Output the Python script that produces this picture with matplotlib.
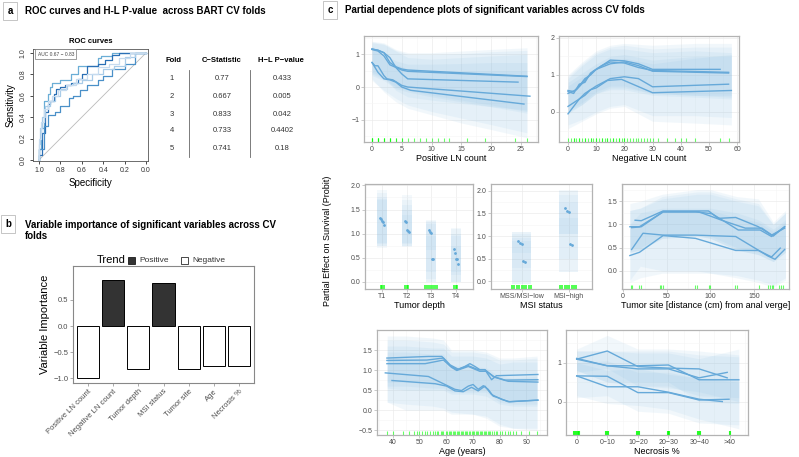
"""
Three-panel figure: ROC curves across CV folds, variable importance,
and partial dependence plots of significant variables.
"""

import matplotlib
matplotlib.use("Agg")
import matplotlib.pyplot as plt
from matplotlib.lines import Line2D
from matplotlib.patches import Rectangle
from matplotlib.ticker import AutoMinorLocator

plt.rcParams['font.family'] = ['Liberation Sans', 'DejaVu Sans']

W, H = 799, 457

# ---------------- panel a: ROC curves per fold ----------------
ROC_FPR = [
    [0, 0.02, 0.05, 0.08, 0.10, 0.12, 0.12, 0.20, 0.20, 0.30, 0.36, 0.36, 0.55, 0.58, 0.68, 0.70, 1.0],
    [0, 0.03, 0.06, 0.08, 0.10, 0.14, 0.16, 0.20, 0.24, 0.30, 0.36, 0.40, 0.45, 0.55, 0.62, 0.68, 0.75, 0.85, 1.0],
    [0, 0.05, 0.08, 0.10, 0.15, 0.20, 0.28, 0.32, 0.38, 0.45, 0.55, 0.60, 0.68, 0.80, 0.90, 1.0],
    [0, 0.01, 0.03, 0.06, 0.10, 0.15, 0.20, 0.26, 0.32, 0.40, 0.50, 0.60, 0.70, 0.80, 0.90, 1.0],
    [0, 0.02, 0.05, 0.08, 0.12, 0.18, 0.25, 0.35, 0.45, 0.55, 0.65, 0.75, 0.85, 1.0],
]
ROC_TPR = [
    [0, 0.10, 0.30, 0.55, 0.62, 0.68, 0.72, 0.72, 0.75, 0.75, 0.80, 0.85, 0.88, 0.95, 0.97, 1.0, 1.0],
    [0, 0.05, 0.25, 0.45, 0.52, 0.55, 0.62, 0.66, 0.68, 0.70, 0.72, 0.76, 0.80, 0.88, 0.90, 0.93, 0.98, 1.0, 1.0],
    [0, 0.10, 0.32, 0.42, 0.42, 0.45, 0.50, 0.58, 0.60, 0.65, 0.70, 0.75, 0.78, 0.85, 0.90, 1.0],
    [0, 0.15, 0.30, 0.40, 0.50, 0.55, 0.60, 0.66, 0.70, 0.72, 0.75, 0.80, 0.85, 0.88, 0.96, 1.0],
    [0, 0.20, 0.35, 0.48, 0.55, 0.60, 0.65, 0.70, 0.76, 0.80, 0.87, 0.90, 0.95, 1.0],
]
ROC_COLORS = ['#6BAED6', '#2A6FB5', '#4A90C8', '#A9CCE8', '#C6DBEF']
AUC_TEXT = 'AUC 0.67 \u2212 0.83'

FOLDS = ['1', '2', '3', '4', '5']
C_STAT = ['0.77', '0.667', '0.833', '0.733', '0.741']
HL_PVAL = ['0.433', '0.005', '0.042', '0.4402', '0.18']

# ---------------- panel b: variable importance ----------------
VAR_NAMES = ['Positive LN count', 'Negative LN count', 'Tumor depth', 'MSI status',
             'Tumor site', 'Age', 'Necrosis %']
VAR_IMP = [-1.0, 0.88, -0.83, 0.82, -0.82, -0.77, -0.76]
VAR_TREND = ['Negative', 'Positive', 'Negative', 'Positive', 'Negative', 'Negative', 'Negative']

# ---------------- panel c: partial dependence ----------------
# Positive LN count
POS_X = [
    [0, 1, 2, 3, 4, 5, 6, 26],
    [0, 1, 2, 3, 4, 5, 6, 24.5],
    [0, 1, 2, 3, 4, 5, 6, 26],
    [0, 0.5, 1, 2, 2.5, 3.5, 5, 6, 26.5],
    [0, 1, 2, 3, 4, 5, 6.5, 25.5],
]
POS_Y = [
    [1.15, 1.13, 1.05, 0.75, 0.62, 0.55, 0.52, 0.33],
    [1.17, 1.12, 1.05, 0.90, 0.60, 0.40, 0.25, 0.15],
    [1.15, 1.10, 0.95, 0.68, 0.60, 0.52, 0.48, 0.32],
    [0.75, 0.65, 0.65, 0.35, 0.25, 0.22, 0.05, 0.0, -0.28],
    [0.75, 0.45, 0.25, 0.22, 0.15, 0.0, -0.10, -0.52],
]
POS_RIB_X = [0, 2, 4, 6, 10, 15, 20, 26]
POS_RIB_LO = [
    [0.40, 0.25, 0.00, -0.10, -0.25, -0.40, -0.55, -0.75],
    [0.45, 0.30, -0.10, -0.30, -0.40, -0.50, -0.60, -0.70],
    [0.35, 0.20, -0.05, -0.15, -0.30, -0.45, -0.60, -0.80],
    [0.20, -0.10, -0.35, -0.55, -0.75, -0.95, -1.15, -1.40],
    [0.25, -0.15, -0.45, -0.65, -0.85, -1.10, -1.30, -1.55],
]
POS_RIB_HI = [
    [1.40, 1.35, 1.15, 1.05, 1.05, 1.10, 1.15, 1.20],
    [1.35, 1.30, 1.10, 0.90, 0.85, 0.90, 0.95, 1.00],
    [1.38, 1.32, 1.12, 1.00, 1.00, 1.02, 1.08, 1.12],
    [1.25, 1.00, 0.80, 0.70, 0.70, 0.72, 0.75, 0.75],
    [1.20, 0.90, 0.70, 0.55, 0.50, 0.50, 0.50, 0.50],
]
POS_RUG = [0, 0, 0, 0, 1, 1, 1, 1, 2, 2, 2, 3, 3, 3, 4, 4, 5, 5, 6, 7, 8, 9, 10, 11, 12,
           13, 16, 19, 24, 26]

# Negative LN count
NEG_X = [
    [0, 2, 4, 6, 8, 10, 13, 15, 20, 25, 30, 54],
    [0, 2, 4, 6, 8, 10, 15, 20, 25, 30, 57],
    [0, 3, 6, 9, 12, 15, 20, 25, 30, 57],
    [0, 2, 4, 6, 8, 10, 12, 15, 20, 25, 30, 57],
    [0, 2, 4, 6, 8, 10, 14, 19, 30, 58],
]
NEG_Y = [
    [0.55, 0.50, 0.75, 0.80, 1.05, 1.15, 1.30, 1.40, 1.38, 1.30, 1.15, 1.15],
    [0.58, 0.55, 0.70, 0.90, 1.00, 1.15, 1.30, 1.35, 1.25, 1.10, 1.05],
    [0.50, 0.60, 0.85, 1.10, 1.25, 1.35, 1.32, 1.20, 1.12, 1.07],
    [0.15, 0.25, 0.35, 0.50, 0.60, 0.70, 0.78, 0.90, 0.95, 0.90, 0.68, 0.75],
    [-0.05, 0.15, 0.35, 0.45, 0.60, 0.65, 0.85, 0.88, 0.52, 0.58],
]
NEG_RIB_X = [0, 5, 10, 15, 20, 30, 45, 58]
NEG_RIB_LO = [
    [-0.05, 0.20, 0.50, 0.60, 0.60, 0.45, 0.40, 0.35],
    [0.05, 0.25, 0.55, 0.70, 0.70, 0.50, 0.45, 0.40],
    [0.00, 0.20, 0.50, 0.65, 0.65, 0.50, 0.45, 0.45],
    [-0.35, -0.20, 0.00, 0.15, 0.20, -0.10, -0.10, -0.15],
    [-0.45, -0.25, -0.05, 0.10, 0.15, -0.25, -0.30, -0.35],
]
NEG_RIB_HI = [
    [1.00, 1.35, 1.65, 1.80, 1.85, 1.80, 1.85, 1.85],
    [0.95, 1.30, 1.60, 1.75, 1.80, 1.70, 1.75, 1.75],
    [0.90, 1.25, 1.55, 1.70, 1.70, 1.60, 1.65, 1.60],
    [0.80, 1.05, 1.30, 1.50, 1.55, 1.40, 1.50, 1.50],
    [0.70, 0.95, 1.20, 1.40, 1.45, 1.30, 1.45, 1.55],
]
NEG_RUG = [0, 1, 2, 3, 4, 5, 6, 7, 8, 9, 10, 11, 12, 13, 14, 15, 16, 17, 18, 19, 20, 21,
           22, 23, 24, 25, 26, 27, 28, 29, 30, 2, 4, 6, 8, 10, 12, 14, 16, 18, 20,
           32, 35, 38, 40, 42, 45, 54, 57]

# Tumor depth (categorical)
DEPTH_CATS = ['T1', 'T2', 'T3', 'T4']
DEPTH_PTS = [
    [1.33, 1.30, 1.27, 1.25, 1.18],
    [1.27, 1.25, 1.08, 1.05, 1.03],
    [1.07, 1.03, 1.02, 0.48, 0.48],
    [0.68, 0.60, 0.48, 0.47, 0.37],
]
DEPTH_JITTER = [-0.08, -0.04, 0.0, 0.04, 0.08]
DEPTH_LO = [
    [0.70, 0.75, 0.78, 0.80, 0.75],
    [0.72, 0.75, 0.80, 0.78, 0.75],
    [0.00, 0.00, 0.20, 0.05, 0.65],
    [0.00, 0.00, 0.15, 0.20, 0.00],
]
DEPTH_HI = [
    [1.90, 1.75, 1.72, 1.70, 1.85],
    [1.80, 1.60, 1.50, 1.38, 1.70],
    [1.28, 1.25, 1.20, 0.95, 1.27],
    [1.12, 1.00, 0.95, 1.10, 0.75],
]
DEPTH_RUG = [0.94, 1.0, 1.06, 1.94, 2.0, 2.06, 2.75, 2.82, 2.9, 2.98, 3.06, 3.14, 3.22,
             3.94, 4.0, 4.06]

# MSI status (categorical)
MSI_CATS = ['MSS/MSI\u2212low', 'MSI\u2212high']
MSI_PTS = [
    [0.88, 0.85, 0.83, 0.44, 0.42],
    [1.62, 1.55, 1.53, 0.83, 0.80],
]
MSI_LO = [
    [-0.05, -0.05, 0.00, 0.30, 0.62],
    [0.20, 0.20, 0.50, 1.05, 1.05],
]
MSI_HI = [
    [1.10, 1.05, 0.95, 0.90, 1.10],
    [2.02, 2.00, 1.90, 1.75, 1.40],
]
MSI_RUG = [0.8, 0.85, 0.9, 0.95, 1.0, 1.05, 1.1, 1.15, 1.2,
           1.82, 1.87, 1.92, 1.97, 2.02, 2.07, 2.12, 2.17]

# Tumor site
SITE_X = [
    [8, 19, 46, 83, 102, 132, 157, 170, 185],
    [14, 21, 46, 98, 109, 129, 155, 170, 185],
    [10, 21, 46, 87, 113, 140, 159, 172, 185],
    [10, 23, 46, 83, 129, 166, 174, 185],
    [8, 19, 46, 83, 129, 155, 170, 180],
]
SITE_Y = [
    [0.95, 0.95, 1.27, 1.27, 1.23, 0.88, 0.88, 0.74, 0.95],
    [1.09, 1.08, 1.29, 1.29, 1.13, 1.15, 0.95, 0.77, 0.92],
    [0.93, 0.95, 1.27, 1.27, 1.09, 0.92, 0.92, 0.75, 0.95],
    [0.46, 0.81, 0.77, 0.77, 0.74, 0.32, 0.25, 0.46],
    [0.33, 0.40, 0.76, 0.70, 0.44, 0.44, 0.30, 0.49],
]
SITE_RIB_X = [8, 20, 45, 85, 100, 130, 155, 172, 186]
SITE_RIB_LO = [
    [0.40, 0.45, 0.70, 0.75, 0.70, 0.45, 0.35, 0.20, 0.40],
    [0.50, 0.50, 0.75, 0.80, 0.75, 0.50, 0.40, 0.25, 0.45],
    [0.40, 0.45, 0.70, 0.75, 0.70, 0.45, 0.35, 0.20, 0.40],
    [-0.20, 0.10, 0.00, 0.00, -0.05, -0.10, -0.20, -0.30, -0.15],
    [-0.25, -0.15, -0.05, -0.05, -0.05, -0.15, -0.25, -0.35, -0.20],
]
SITE_RIB_HI = [
    [1.30, 1.35, 1.55, 1.65, 1.65, 1.50, 1.40, 1.00, 1.25],
    [1.45, 1.50, 1.65, 1.75, 1.75, 1.60, 1.55, 1.05, 1.30],
    [1.30, 1.35, 1.60, 1.70, 1.70, 1.55, 1.45, 1.00, 1.25],
    [1.00, 1.25, 1.35, 1.35, 1.35, 1.25, 1.10, 0.90, 1.10],
    [0.90, 1.00, 1.30, 1.30, 1.30, 1.15, 1.05, 0.85, 1.05],
]
SITE_RUG = [9, 11, 19, 21, 42, 44, 46, 83, 85, 99, 100, 128, 130, 156, 166, 168, 170,
            172, 179, 181, 183]

# Age
AGE_X = [
    [37.9, 53.4, 58.4, 61.5, 64.6, 67.0, 68.9, 70.8, 72.6, 74.5, 77.0, 78.8, 94.3],
    [37.9, 52.8, 59.0, 61.5, 64.0, 68.3, 72.0, 74.5, 77.6, 82.0, 94.3],
    [37.9, 52.2, 59.0, 62.0, 64.0, 68.3, 72.6, 75.1, 78.2, 83.2, 94.3],
    [37.3, 53.4, 59.6, 63.3, 65.8, 68.3, 70.1, 72.0, 73.9, 75.7, 77.6, 79.5, 83.2, 94.3],
    [39.8, 55.9, 60.2, 63.3, 66.4, 69.5, 72.0, 74.5, 77.0, 80.7, 83.8, 94.3],
]
AGE_Y = [
    [1.30, 1.34, 1.34, 1.13, 1.02, 1.09, 1.16, 1.09, 1.01, 1.01, 0.76, 0.86, 0.89],
    [1.24, 1.25, 1.30, 1.11, 1.01, 1.11, 1.01, 1.01, 0.84, 0.75, 0.76],
    [1.16, 1.16, 1.25, 1.07, 0.99, 1.09, 0.97, 0.97, 0.82, 0.72, 0.70],
    [0.93, 0.84, 0.64, 0.52, 0.49, 0.60, 0.64, 0.52, 0.61, 0.52, 0.35, 0.31, 0.21, 0.25],
    [0.74, 0.66, 0.60, 0.48, 0.46, 0.57, 0.48, 0.60, 0.39, 0.27, 0.21, 0.25],
]
AGE_RIB_X = [38, 45, 55, 59, 62, 70, 75, 80, 85, 94]
AGE_RIB_LO = [
    [0.70, 0.70, 0.65, 0.65, 0.55, 0.55, 0.50, 0.30, 0.25, 0.25],
    [0.60, 0.60, 0.55, 0.55, 0.45, 0.45, 0.45, 0.20, 0.15, 0.15],
    [0.55, 0.50, 0.50, 0.50, 0.40, 0.40, 0.35, 0.15, 0.10, 0.10],
    [0.20, 0.15, 0.10, 0.05, -0.05, -0.10, -0.15, -0.35, -0.45, -0.50],
    [0.20, 0.00, 0.00, 0.00, -0.10, -0.10, -0.20, -0.40, -0.45, -0.45],
]
AGE_RIB_HI = [
    [1.85, 1.85, 1.80, 1.75, 1.50, 1.50, 1.45, 1.30, 1.30, 1.35],
    [1.75, 1.75, 1.70, 1.65, 1.45, 1.45, 1.40, 1.25, 1.25, 1.30],
    [1.60, 1.60, 1.55, 1.55, 1.35, 1.35, 1.30, 1.15, 1.20, 1.20],
    [1.45, 1.45, 1.40, 1.40, 1.10, 1.10, 1.05, 0.85, 0.80, 0.85],
    [1.30, 1.30, 1.25, 1.20, 1.00, 1.00, 0.95, 0.80, 0.75, 0.80],
]
AGE_RUG = [38, 40, 44, 46, 48, 49, 50, 51, 52, 53, 54, 55, 56, 57, 58, 59, 60, 61, 62,
           63, 64, 65, 66, 67, 68, 69, 70, 71, 72, 73, 74, 75, 76, 77, 78, 79, 80, 81,
           82, 83, 84, 85, 86, 88, 91, 94,
           56.5, 58.5, 60.5, 62.5, 64.5, 66.5, 68.5, 70.5, 72.5, 74.5, 76.5, 78.5,
           61.5, 63.5, 65.5, 67.5, 69.5, 71.5, 73.5, 75.5]

# Necrosis %
NECRO_CATS = ['0', '0\u221210', '10\u221220', '20\u221230', '30\u221240', '>40']
NECRO_X = [
    [0, 1, 2, 3, 4, 4.92],
    [0, 1, 2, 3, 4, 5.3],
    [0, 1, 2, 3, 4, 4.92],
    [0, 1, 2, 3, 4, 4.98],
    [0, 1, 2, 3, 4, 4.76],
]
NECRO_Y = [
    [1.09, 1.30, 0.90, 0.86, 0.84, 0.61],
    [1.11, 0.92, 0.92, 0.94, 0.56, 0.56],
    [1.09, 0.92, 0.84, 0.84, 0.61, 0.75],
    [0.66, 0.65, 0.23, 0.23, 0.04, 0.06],
    [0.66, 0.38, 0.38, 0.24, 0.06, 0.00],
]
NECRO_RIB_X = [0, 1, 2, 3, 4, 5.3]
NECRO_RIB_LO = [
    [0.75, 0.85, 0.40, 0.35, 0.25, 0.00],
    [0.80, 0.50, 0.50, 0.50, 0.00, -0.05],
    [0.80, 0.50, 0.40, 0.40, 0.15, 0.10],
    [0.10, 0.15, -0.25, -0.30, -0.55, -0.60],
    [0.15, -0.05, -0.10, -0.20, -0.45, -0.70],
]
NECRO_RIB_HI = [
    [1.35, 1.70, 1.35, 1.35, 1.30, 1.20],
    [1.30, 1.30, 1.30, 1.30, 1.20, 1.15],
    [1.30, 1.30, 1.25, 1.25, 1.10, 1.35],
    [1.00, 1.05, 0.75, 0.75, 0.60, 0.60],
    [1.00, 0.80, 0.85, 0.70, 0.60, 0.50],
]
NECRO_RUG = [-0.09, -0.03, 0.03, 0.09, 0.97, 1.03, 1.97, 2.03, 2.97, 3.03, 3.97, 4.03, 5.0]

LINE_COL = '#66A9D9'
RIB_COL = '#7DB8E0'
RUG_COL = '#00FF00'
TICK_COL = '#4D4D4D'


def add_ax(fig, x0, y0, x1, y1):
    """Axes from pixel box (left, top, right, bottom)."""
    return fig.add_axes([x0 / W, 1 - y1 / H, (x1 - x0) / W, (y1 - y0) / H])


def fig_text(fig, x, y, s, **kw):
    fig.text(x / W, 1 - y / H, s, **kw)


def panel_tag(fig, x, y, letter):
    fig_text(fig, x, y, letter, fontsize=7, fontweight='bold', ha='center', va='center',
             bbox=dict(boxstyle='square,pad=0.45', fc='white', ec='#BBBBBB', lw=0.6))


def gg_style(ax, minor_x=True, minor_y=True):
    ax.set_facecolor('white')
    for s in ax.spines.values():
        s.set_color('#B3B3B3')
        s.set_linewidth(0.9)
    if minor_x:
        ax.xaxis.set_minor_locator(AutoMinorLocator(2))
    if minor_y:
        ax.yaxis.set_minor_locator(AutoMinorLocator(2))
    ax.grid(True, which='major', color='#EBEBEB', lw=0.5)
    ax.grid(True, which='minor', color='#F5F5F5', lw=0.4)
    ax.tick_params(which='major', labelsize=5, labelcolor=TICK_COL, length=2,
                   width=0.5, color='#B3B3B3', pad=1.2)
    ax.tick_params(which='minor', length=0)
    ax.set_axisbelow(True)


def rug(ax, values, lw=0.8, alpha=0.6):
    ax.vlines(values, 0, 0.04, transform=ax.get_xaxis_transform(), color=RUG_COL,
              lw=lw, alpha=alpha)


def pd_continuous(ax, xs, ys, rib_x, rib_lo, rib_hi, rug_vals):
    for lo, hi in zip(rib_lo, rib_hi):
        ax.fill_between(rib_x, lo, hi, color=RIB_COL, alpha=0.1, lw=0)
    for x, y in zip(xs, ys):
        ax.plot(x, y, color=LINE_COL, lw=1.0)
    rug(ax, rug_vals)


def pd_categorical(ax, cats, pts, lo, hi, rug_vals, jitter):
    for i, cat in enumerate(cats):
        pos = i + 1
        for l, h in zip(lo[i], hi[i]):
            ax.add_patch(Rectangle((pos - 0.2, l), 0.4, h - l, color=RIB_COL,
                                   alpha=0.08, lw=0))
        ax.scatter([pos + j for j in jitter], pts[i], s=1.0, color=LINE_COL, zorder=3)
    ax.set_xticks(range(1, len(cats) + 1))
    ax.set_xticklabels(cats)
    rug(ax, rug_vals, lw=1.2, alpha=0.8)


def draw_panel_a(fig):
    panel_tag(fig, 10, 11, 'a')
    fig_text(fig, 25, 11, 'ROC curves and H-L P-value  across BART CV folds',
             fontsize=7, fontweight='bold', va='center')

    ax = add_ax(fig, 33, 49, 148, 161)
    ax.plot([1, 0], [0, 1], color='#BBBBBB', lw=0.6)
    for fpr, tpr, col in zip(ROC_FPR, ROC_TPR, ROC_COLORS):
        spec = [1 - f for f in fpr]
        ax.plot(spec, tpr, color=col, lw=0.9, drawstyle='steps-pre')
    ax.set_xlim(1.056, -0.019)
    ax.set_ylim(-0.01, 1.037)
    ax.set_xticks([1.0, 0.8, 0.6, 0.4, 0.2, 0.0])
    ax.set_yticks([0.0, 0.2, 0.4, 0.6, 0.8, 1.0])
    ax.set_xticklabels(['1.0', '0.8', '0.6', '0.4', '0.2', '0.0'])
    ax.set_yticklabels(['0.0', '0.2', '0.4', '0.6', '0.8', '1.0'], rotation=90, va='center')
    ax.tick_params(labelsize=5, length=2.5, width=0.5, pad=2, labelcolor='#333333')
    for s in ax.spines.values():
        s.set_linewidth(0.6)
        s.set_color('#555555')
    ax.set_title('ROC curves', fontsize=5.5, fontweight='bold', pad=4)
    ax.set_xlabel('Specificity', fontsize=7, labelpad=3)
    ax.set_ylabel('Sensitivity', fontsize=7, labelpad=3)
    ax.text(0.04, 0.955, AUC_TEXT, transform=ax.transAxes, fontsize=3.5, va='center',
            color='#444444',
            bbox=dict(boxstyle='square,pad=0.5', fc='white', ec='#777777', lw=0.5))

    # table of fold statistics
    fig_text(fig, 173, 61, 'Fold', fontsize=5.5, fontweight='bold', ha='center', va='center')
    fig_text(fig, 222, 61, 'C\u2212Statistic', fontsize=5.5, fontweight='bold', ha='center', va='center')
    fig_text(fig, 281, 61, 'H\u2212L P\u2212value', fontsize=5.5, fontweight='bold', ha='center', va='center')
    rows_y = [79, 96.5, 114, 131, 148]
    for y, f, c, p in zip(rows_y, FOLDS, C_STAT, HL_PVAL):
        fig_text(fig, 172, y, f, fontsize=5.5, ha='center', va='center', color='#333333')
        fig_text(fig, 222, y, c, fontsize=5.5, ha='center', va='center', color='#333333')
        fig_text(fig, 282, y, p, fontsize=5.5, ha='center', va='center', color='#333333')
    for xv in (189, 250):
        fig.add_artist(Line2D([xv / W, xv / W], [1 - 70 / H, 1 - 157 / H],
                              color='#666666', lw=0.6))


def draw_panel_b(fig):
    panel_tag(fig, 8, 224, 'b')
    fig_text(fig, 25, 225, 'Variable importance of significant variables across CV',
             fontsize=7, fontweight='bold', va='center')
    fig_text(fig, 25, 236, 'folds', fontsize=7, fontweight='bold', va='center')

    # legend
    fig_text(fig, 97, 260, 'Trend', fontsize=8, va='center')
    fig.add_artist(Rectangle((128 / W, 1 - 264 / H), 7 / W, 7 / H, fc='#333333',
                             ec='black', lw=0.5))
    fig_text(fig, 139, 260, 'Positive', fontsize=6, va='center', color='#333333')
    fig.add_artist(Rectangle((181 / W, 1 - 264 / H), 7 / W, 7 / H, fc='white',
                             ec='black', lw=0.5))
    fig_text(fig, 192, 260, 'Negative', fontsize=6, va='center', color='#333333')

    ax = add_ax(fig, 73, 266, 254, 383)
    pos = list(range(1, len(VAR_NAMES) + 1))
    colors = ['#333333' if t == 'Positive' else 'white' for t in VAR_TREND]
    ax.bar(pos, VAR_IMP, width=0.88, color=colors, edgecolor='black', lw=0.7)
    ax.set_xlim(0.4, 7.6)
    ax.set_ylim(-1.09, 1.15)
    ax.set_yticks([-1.0, -0.5, 0.0, 0.5])
    ax.set_yticklabels(['\u22121.0', '\u22120.5', '0.0', '0.5'])
    ax.set_xticks(pos)
    ax.set_xticklabels(VAR_NAMES, rotation=45, ha='right', rotation_mode='anchor')
    ax.tick_params(labelsize=5.5, labelcolor=TICK_COL, length=2, width=0.5,
                   color='#888888', pad=1.5)
    for s in ax.spines.values():
        s.set_color('#888888')
        s.set_linewidth(0.8)
    ax.set_ylabel('Variable Importance', fontsize=8, labelpad=2)


def draw_panel_c(fig):
    panel_tag(fig, 330, 10, 'c')
    fig_text(fig, 345, 10, 'Partial dependence plots of significant variables across CV folds',
             fontsize=7, fontweight='bold', va='center')
    fig_text(fig, 328, 241, 'Partial Effect on Survival (Probit)', fontsize=6.5,
             rotation=90, ha='center', va='center')

    # positive LN count
    ax = add_ax(fig, 364, 36, 538, 142)
    gg_style(ax)
    pd_continuous(ax, POS_X, POS_Y, POS_RIB_X, POS_RIB_LO, POS_RIB_HI, POS_RUG)
    ax.set_xlim(-1.34, 27.85)
    ax.set_ylim(-1.68, 1.56)
    ax.set_xticks([0, 5, 10, 15, 20, 25])
    ax.set_yticks([-1, 0, 1])
    ax.set_yticklabels(['\u22121', '0', '1'])
    ax.set_xlabel('Positive LN count', fontsize=6.5, labelpad=0.5)

    # negative LN count
    ax = add_ax(fig, 559, 36, 739, 142)
    gg_style(ax)
    pd_continuous(ax, NEG_X, NEG_Y, NEG_RIB_X, NEG_RIB_LO, NEG_RIB_HI, NEG_RUG)
    ax.set_xlim(-3.2, 60.7)
    ax.set_ylim(-0.81, 2.05)
    ax.set_xticks([0, 10, 20, 30, 40, 50, 60])
    ax.set_yticks([0, 1, 2])
    ax.set_xlabel('Negative LN count', fontsize=6.5, labelpad=0.5)

    # tumor depth
    ax = add_ax(fig, 365, 184, 473, 289)
    gg_style(ax, minor_x=False)
    pd_categorical(ax, DEPTH_CATS, DEPTH_PTS, DEPTH_LO, DEPTH_HI, DEPTH_RUG, DEPTH_JITTER)
    ax.set_xlim(0.3, 4.7)
    ax.set_ylim(-0.15, 2.03)
    ax.set_yticks([0.0, 0.5, 1.0, 1.5, 2.0])
    ax.set_yticklabels(['0.0', '0.5', '1.0', '1.5', '2.0'])
    ax.set_xlabel('Tumor depth', fontsize=6.5, labelpad=0.5)

    # MSI status
    ax = add_ax(fig, 491, 184, 592, 289)
    gg_style(ax, minor_x=False)
    pd_categorical(ax, MSI_CATS, MSI_PTS, MSI_LO, MSI_HI, MSI_RUG, DEPTH_JITTER)
    ax.set_xlim(0.35, 2.5)
    ax.set_ylim(-0.17, 2.15)
    ax.set_yticks([0.0, 0.5, 1.0, 1.5, 2.0])
    ax.set_yticklabels(['0.0', '0.5', '1.0', '1.5', '2.0'])
    ax.set_xlabel('MSI status', fontsize=6.5, labelpad=0.5)

    # tumor site
    ax = add_ax(fig, 622, 184, 789, 289)
    gg_style(ax)
    pd_continuous(ax, SITE_X, SITE_Y, SITE_RIB_X, SITE_RIB_LO, SITE_RIB_HI, SITE_RUG)
    ax.set_xlim(-1, 190)
    ax.set_ylim(-0.39, 1.87)
    ax.set_xticks([0, 50, 100, 150])
    ax.set_yticks([0.0, 0.5, 1.0, 1.5])
    ax.set_yticklabels(['0.0', '0.5', '1.0', '1.5'])
    ax.set_xlabel('Tumor site [distance (cm) from anal verge]', fontsize=6.5, labelpad=0.5)

    # age
    ax = add_ax(fig, 377, 330, 547, 435)
    gg_style(ax)
    pd_continuous(ax, AGE_X, AGE_Y, AGE_RIB_X, AGE_RIB_LO, AGE_RIB_HI, AGE_RUG)
    ax.set_xlim(34.2, 97.7)
    ax.set_ylim(-0.62, 2.0)
    ax.set_xticks([40, 50, 60, 70, 80, 90])
    ax.set_yticks([-0.5, 0.0, 0.5, 1.0, 1.5])
    ax.set_yticklabels(['\u22120.5', '0.0', '0.5', '1.0', '1.5'])
    ax.set_xlabel('Age (years)', fontsize=6.5, labelpad=0.2)

    # necrosis
    ax = add_ax(fig, 566, 330, 748, 435)
    gg_style(ax)
    pd_continuous(ax, NECRO_X, NECRO_Y, NECRO_RIB_X, NECRO_RIB_LO, NECRO_RIB_HI, [])
    rug(ax, NECRO_RUG, lw=1.5, alpha=0.85)
    ax.set_xlim(-0.35, 5.6)
    ax.set_ylim(-0.86, 1.84)
    ax.set_xticks(range(len(NECRO_CATS)))
    ax.set_xticklabels(NECRO_CATS)
    ax.set_yticks([0, 1])
    ax.set_xlabel('Necrosis %', fontsize=6.5, labelpad=0.2)


def main():
    fig = plt.figure(figsize=(W / 100, H / 100), dpi=100)
    fig.patch.set_facecolor('white')
    draw_panel_a(fig)
    draw_panel_b(fig)
    draw_panel_c(fig)
    fig.savefig('out.png', dpi=100)
    plt.close(fig)


if __name__ == '__main__':
    main()
